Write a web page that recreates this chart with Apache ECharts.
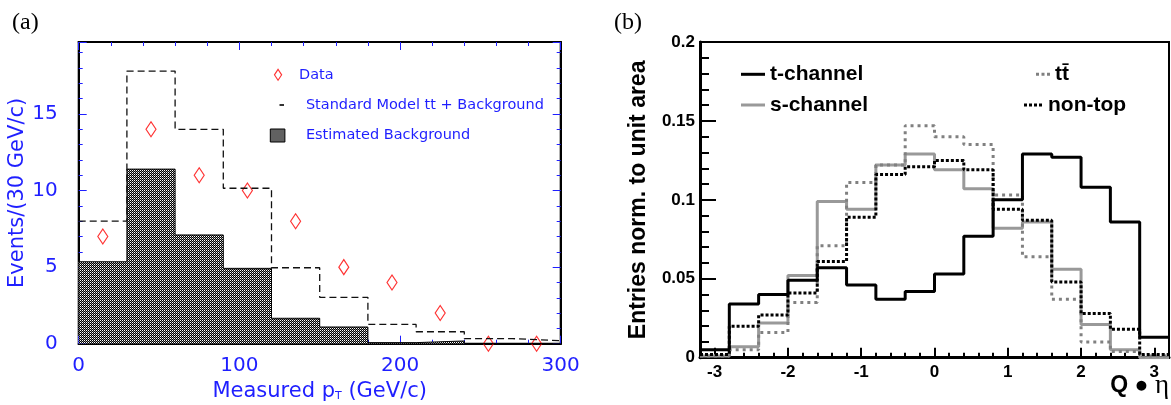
<!DOCTYPE html>
<html><head><meta charset="utf-8">
<script src="https://cdn.jsdelivr.net/npm/echarts@6/dist/echarts.min.js"></script>
<style>html,body{margin:0;padding:0;background:#fff}#c{width:1171px;height:405px}</style>
</head><body><div id="c"></div>
<script>
// ---------- Panel (a) data ----------
const ptEdges = [0, 30, 60, 90, 120, 150, 180, 210, 240, 270, 300];
const ptCenters = [15, 45, 75, 105, 135, 165, 195, 225, 255, 285];
const dataCounts = [7, 14, 11, 10, 8, 5, 4, 2, 0, 0];
const smTtBkg = [8.0, 17.8, 14.0, 10.15, 4.96, 3.03, 1.26, 0.78, 0.33, 0.2];
const estBkg = [5.35, 11.4, 7.1, 4.92, 1.66, 1.09, 0.07, 0.18, 0, 0];

// ---------- Panel (b) data ----------
const qetaEdges = [-3.2, -2.8, -2.4, -2.0, -1.6, -1.2, -0.8, -0.4, 0, 0.4, 0.8, 1.2, 1.6, 2.0, 2.4, 2.8, 3.2];
const tChannel = [0.005, 0.034, 0.040, 0.049, 0.057, 0.046, 0.037, 0.042, 0.053, 0.077, 0.100, 0.129, 0.127, 0.108, 0.086, 0.013];
const sChannel = [0.001, 0.007, 0.022, 0.052, 0.099, 0.094, 0.122, 0.129, 0.119, 0.107, 0.082, 0.086, 0.056, 0.021, 0.005, 0.000];
const ttbar = [0.001, 0.005, 0.016, 0.035, 0.071, 0.111, 0.122, 0.147, 0.140, 0.135, 0.103, 0.064, 0.037, 0.010, 0.004, 0.001];
const nonTop = [0.002, 0.020, 0.027, 0.041, 0.061, 0.089, 0.116, 0.121, 0.125, 0.119, 0.094, 0.087, 0.048, 0.028, 0.018, 0.002];
const qetaTickLabels = [-3, -2, -1, 0, 1, 2, 3];
const qetaMinorTicks = [-3.2, -3.0, -2.8, -2.6, -2.4, -2.2, -2.0, -1.8, -1.6, -1.4, -1.2, -1.0, -0.8, -0.6, -0.4, -0.2, 0, 0.2, 0.4, 0.6, 0.8, 1.0, 1.2, 1.4, 1.6, 1.8, 2.0, 2.2, 2.4, 2.6, 2.8, 3.0, 3.2];

function stepData(edges, vals) {
  const d = vals.map((v, i) => [edges[i], v]);
  d.push([edges[edges.length - 1], vals[vals.length - 1]]);
  return d;
}

// fine checker cross-hatch pattern
const pc = document.createElement('canvas');
pc.width = 2; pc.height = 2;
const g = pc.getContext('2d');
g.fillStyle = '#000'; g.fillRect(0, 0, 2, 2);
g.fillStyle = '#fff'; g.fillRect(0, 0, 1, 1);
g.fillStyle = '#888'; g.fillRect(1, 1, 1, 1);
const hatch = { image: pc, repeat: 'repeat' };

const BLUE = '#1f1fff';
const SANS = 'Liberation Sans, Arial, sans-serif';
const DJ = 'DejaVu Sans, sans-serif';
const SERIF = 'Liberation Serif, DejaVu Serif, serif';

const chart = echarts.init(document.getElementById('c'), null, { renderer: 'canvas' });

const blueTick = { show: true, inside: true, length: 8, lineStyle: { color: BLUE, width: 1 } };
const blueMinor = { show: true, splitNumber: 5, length: 4, lineStyle: { color: BLUE, width: 1 } };
const blackLineA = { show: true, onZero: false, lineStyle: { color: '#000', width: 2 } };

chart.setOption({
  animation: false,
  backgroundColor: '#fff',
  title: [
    { text: '(a)', left: 7, top: 6, textStyle: { fontFamily: SERIF, fontSize: 24, fontWeight: 'normal', color: '#000' } },
    { text: '(b)', left: 609, top: 6, textStyle: { fontFamily: SERIF, fontSize: 24, fontWeight: 'normal', color: '#000' } },
    { text: 'Q \u25CF {b|\u03b7}', right: 2, top: 372, padding: 0,
      textStyle: { fontSize: 23, fontWeight: 'bold', fontFamily: SANS, color: '#000',
        rich: { b: { fontSize: 27, fontWeight: 'normal', fontFamily: SERIF, color: '#000' } } } }
  ],
  grid: [
    { left: 78.7, top: 42, width: 482, height: 301.7, show: true, borderColor: '#000', borderWidth: 2, outerBoundsMode: 'none', containLabel: false },
    { left: 700, top: 42, width: 469, height: 315.7, show: true, borderColor: '#000', borderWidth: 2, outerBoundsMode: 'none', containLabel: false }
  ],
  legend: [
    {
      selectedMode: false, orient: 'vertical', left: 256.5, top: 61.3, itemWidth: 32, itemHeight: 16, itemGap: 14,
      textStyle: { color: BLUE, fontSize: 14.5, fontFamily: DJ, lineHeight: 16 },
      data: [
        { name: 'Data', icon: 'path://M0,0M16,2.5L19.6,8L16,13.5L12.4,8ZM32,16', itemStyle: { color: 'rgba(0,0,0,0)', borderColor: '#ff0000', borderWidth: 1.1 } }
      ]
    },
    {
      selectedMode: false, orient: 'vertical', left: 260, top: 92, itemWidth: 35.4, itemHeight: 16, itemGap: 14,
      textStyle: { color: BLUE, fontSize: 14.5, fontFamily: DJ, lineHeight: 16 },
      data: [
        { name: 'Standard Model tt + Background', icon: 'path://M0,0M14,7.2h4.5v1.6h-4.5zM35.4,16', itemStyle: { color: '#000', borderWidth: 0 } },
        { name: 'Estimated Background', icon: 'path://M0,0M4.8,1.5h14.6v13h-14.6zM35.4,16', itemStyle: { color: hatch, borderColor: '#000', borderWidth: 1 } }
      ]
    },
    {
      selectedMode: false, orient: 'vertical', left: 736, top: 58.3, itemWidth: 24, itemHeight: 14, itemGap: 8.7,
      textStyle: { color: '#000', fontSize: 21, fontWeight: 'bold', fontFamily: SANS, lineHeight: 22 },
      data: [
        { name: 't-channel', icon: 'path://M0,0M0,5.5h24v3h-24zM24,14', itemStyle: { color: '#000', borderWidth: 0 } },
        { name: 's-channel', icon: 'path://M0,0M0,5.5h24v3h-24zM24,14', itemStyle: { color: '#999', borderWidth: 0 } }
      ]
    },
    {
      selectedMode: false, orient: 'vertical', left: 1021, top: 58.3, itemWidth: 24, itemHeight: 14,
      textStyle: { color: '#000', fontSize: 21, fontWeight: 'bold', fontFamily: SANS, lineHeight: 22 },
      data: [
        { name: 'tt\u0304', icon: 'path://M0,0M10,5.5h3v3h-3zM15.5,5.5h3v3h-3zM21,5.5h3v3h-3zM24,14', itemStyle: { color: '#808080', borderWidth: 0 } }
      ]
    },
    {
      selectedMode: false, orient: 'vertical', left: 1014, top: 89, itemWidth: 24, itemHeight: 14,
      textStyle: { color: '#000', fontSize: 21, fontWeight: 'bold', fontFamily: SANS, lineHeight: 22 },
      data: [
        { name: 'non-top', icon: 'path://M0,0M5,5.5h3v3h-3zM10,5.5h3v3h-3zM15,5.5h3v3h-3zM20,5.5h3v3h-3zM24,14', itemStyle: { color: '#000', borderWidth: 0 } }
      ]
    }
  ],
  xAxis: [
    {
      gridIndex: 0, type: 'value', min: 0, max: 300, interval: 100, position: 'bottom',
      axisLine: blackLineA, axisTick: blueTick, minorTick: blueMinor, splitLine: { show: false },
      axisLabel: { color: BLUE, fontSize: 20, fontFamily: DJ, margin: 12 },
      name: 'Measured p{s|T} (GeV/c)', nameLocation: 'middle', nameGap: 37,
      nameTextStyle: { color: BLUE, fontSize: 21, fontFamily: DJ, rich: { s: { color: BLUE, fontSize: 11, fontFamily: DJ, verticalAlign: 'bottom', padding: [8, 0, 0, 0] } } }
    },
    {
      gridIndex: 0, type: 'value', min: 0, max: 300, interval: 100, position: 'top',
      axisLine: blackLineA, axisTick: blueTick, minorTick: blueMinor, splitLine: { show: false }, axisLabel: { show: false }
    },
    {
      gridIndex: 1, type: 'value', min: -3.2, max: 3.2, position: 'bottom',
      axisLine: { show: true, onZero: false, lineStyle: { color: '#000', width: 3 } },
      axisTick: { show: true, inside: true, length: 10, customValues: qetaTickLabels, lineStyle: { color: '#000', width: 2 } },
      splitLine: { show: false },
      axisLabel: { customValues: qetaTickLabels, color: '#000', fontSize: 17, fontWeight: 'bold', fontFamily: SANS, margin: 6 }
    },
    {
      gridIndex: 1, type: 'value', min: -3.2, max: 3.2, position: 'bottom',
      axisLine: { show: false, onZero: false },
      axisTick: { show: true, inside: true, length: 5, customValues: qetaMinorTicks, lineStyle: { color: '#000', width: 2 } },
      splitLine: { show: false }, axisLabel: { show: false }
    }
  ],
  yAxis: [
    {
      gridIndex: 0, type: 'value', min: 0, max: 19.7, interval: 5, position: 'left',
      axisLine: blackLineA, axisTick: blueTick, minorTick: blueMinor, splitLine: { show: false },
      axisLabel: { color: BLUE, fontSize: 20, fontFamily: DJ, margin: 21, showMaxLabel: false },
      name: 'Events/(30 GeV/c)', nameLocation: 'middle', nameGap: 38,
      nameTextStyle: { color: BLUE, fontSize: 21, fontFamily: DJ }
    },
    {
      gridIndex: 0, type: 'value', min: 0, max: 19.7, interval: 5, position: 'right',
      axisLine: blackLineA, axisTick: blueTick, minorTick: blueMinor, splitLine: { show: false }, axisLabel: { show: false }
    },
    {
      gridIndex: 1, type: 'value', min: 0, max: 0.2, interval: 0.05, position: 'left',
      axisLine: { show: true, onZero: false, lineStyle: { color: '#000', width: 3 } },
      axisTick: { show: true, inside: true, length: 16, lineStyle: { color: '#000', width: 2 } },
      minorTick: { show: true, splitNumber: 5, length: 9, lineStyle: { color: '#000', width: 2 } },
      splitLine: { show: false },
      axisLabel: { color: '#000', fontSize: 17, fontWeight: 'bold', fontFamily: SANS, margin: 5 },
      name: 'Entries norm. to unit area', nameLocation: 'middle', nameGap: 50,
      nameTextStyle: { color: '#000', fontSize: 23, fontWeight: 'bold', fontFamily: SANS }
    }
  ],
  series: [
    {
      name: 'Estimated Background', type: 'line', xAxisIndex: 0, yAxisIndex: 0, step: 'end',
      data: stepData(ptEdges, estBkg), symbol: 'none',
      lineStyle: { color: '#000', width: 1 }, areaStyle: { color: hatch, opacity: 1 }
    },
    {
      name: 'Standard Model tt + Background', type: 'line', xAxisIndex: 0, yAxisIndex: 0, step: 'end',
      data: stepData(ptEdges, smTtBkg), symbol: 'none',
      lineStyle: { color: '#111', width: 1.3, type: [7, 4] }
    },
    {
      name: 'Data', type: 'scatter', xAxisIndex: 0, yAxisIndex: 0,
      data: ptCenters.map((x, i) => [x, dataCounts[i]]),
      symbol: 'diamond', symbolSize: [10, 15], clip: true,
      itemStyle: { color: 'rgba(0,0,0,0)', borderColor: '#ff0000', borderWidth: 1.2 }
    },
    {
      name: 's-channel', type: 'line', xAxisIndex: 2, yAxisIndex: 2, step: 'end',
      data: stepData(qetaEdges, sChannel), symbol: 'none',
      lineStyle: { color: '#999', width: 3 }
    },
    {
      name: 'tt\u0304', type: 'line', xAxisIndex: 2, yAxisIndex: 2, step: 'end',
      data: stepData(qetaEdges, ttbar), symbol: 'none',
      lineStyle: { color: '#808080', width: 3, type: [3, 4] }
    },
    {
      name: 'non-top', type: 'line', xAxisIndex: 2, yAxisIndex: 2, step: 'end',
      data: stepData(qetaEdges, nonTop), symbol: 'none',
      lineStyle: { color: '#000', width: 3, type: [3, 2] }
    },
    {
      name: 't-channel', type: 'line', xAxisIndex: 2, yAxisIndex: 2, step: 'end',
      data: stepData(qetaEdges, tChannel), symbol: 'none',
      lineStyle: { color: '#000', width: 3 }
    }
  ]
});
</script>
</body></html>
